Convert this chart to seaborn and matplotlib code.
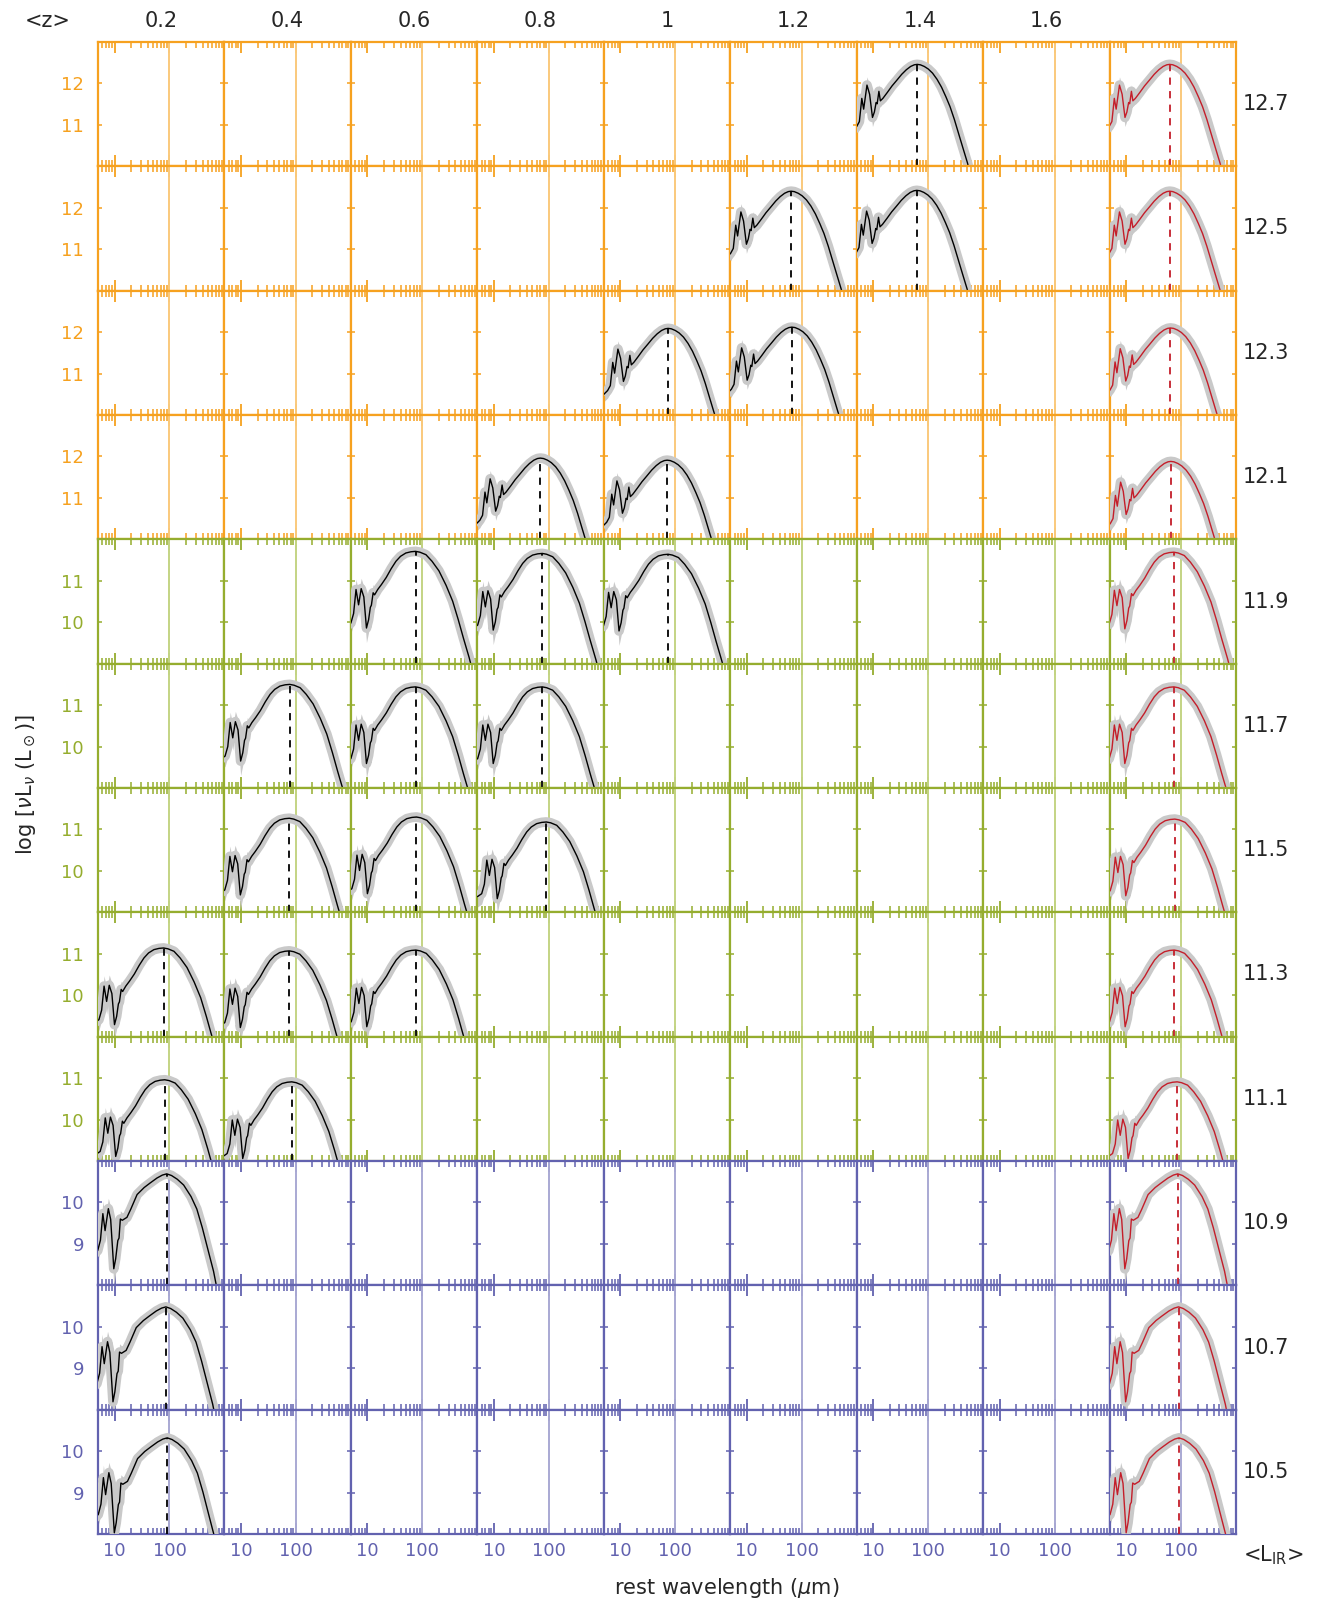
import numpy as np
import matplotlib
matplotlib.use("Agg")
import matplotlib.pyplot as plt
from matplotlib.ticker import LogLocator, NullFormatter, FixedLocator, FixedFormatter
import seaborn as sns

# rows = <L_IR> bins, columns = <z> bins (+ one stacked column on the right)
lir_rows = [12.7, 12.5, 12.3, 12.1, 11.9, 11.7, 11.5, 11.3, 11.1, 10.9, 10.7, 10.5]
z_labels = ["0.2", "0.4", "0.6", "0.8", "1", "1.2", "1.4", "1.6"]

# z columns holding a template in each row
filled_cols = [[6], [5, 6], [4, 5], [3, 4], [2, 3, 4], [1, 2, 3], [1, 2, 3],
               [0, 1, 2], [0, 1], [0], [0], [0]]
# peak wavelength (um) of each template, last value = stacked (red) column
peak_wave = [[63, 62], [64, 62, 62], [74, 66, 64], [70, 71, 65], [75, 76, 74, 74],
             [77, 75, 76, 74], [76, 78, 90, 77], [78, 76, 76, 75], [82, 84, 85],
             [89, 87], [86, 90], [91, 92]]
# peak log(nu L_nu), same layout
peak_lum = [[12.46, 12.46], [12.40, 12.42, 12.40], [12.09, 12.12, 12.10],
            [11.96, 11.91, 11.88], [11.71, 11.66, 11.64, 11.69],
            [11.50, 11.44, 11.44, 11.44], [11.27, 11.30, 11.18, 11.25],
            [11.14, 11.07, 11.09, 11.09], [10.96, 10.91, 10.91],
            [10.69, 10.69], [10.48, 10.48], [10.32, 10.32]]

# template shapes (wavelength, log L relative to peak, band half width)
bright_peak = 63
bright_wave = [4.2, 5.0, 5.6, 6.2, 6.7, 7.7, 8.6, 9.7, 10.5, 11.3, 11.8, 12.7, 13.5, 15.0,
               18, 22, 27, 33, 40, 48, 56, 63, 72, 85, 100, 120, 145, 175, 210, 250,
               300, 360, 430, 520, 620, 750]
bright_rel = [-1.60, -1.50, -1.38, -0.82, -1.08, -0.50, -0.72, -1.28, -1.15, -0.92, -0.95,
              -0.65, -0.88, -0.82, -0.68, -0.52, -0.38, -0.24, -0.13, -0.05, -0.01, 0.0,
              -0.01, -0.05, -0.11, -0.21, -0.36, -0.55, -0.78, -1.02, -1.33, -1.68,
              -2.02, -2.38, -2.80, -3.3]
bright_err = [0.18, 0.18, 0.18, 0.2, 0.22, 0.2, 0.2, 0.22, 0.2, 0.18, 0.18, 0.16, 0.14,
              0.12, 0.1, 0.08, 0.06, 0.05, 0.05, 0.05, 0.05, 0.05, 0.05, 0.05, 0.05, 0.05,
              0.05, 0.05, 0.05, 0.05, 0.05, 0.05, 0.05, 0.05, 0.05, 0.05]

mid_peak = 75
mid_wave = [4.2, 5.0, 5.6, 6.2, 6.9, 7.7, 8.6, 9.6, 10.5, 11.3, 11.8, 12.7, 13.5, 15.4,
            18, 22, 27, 33, 40, 50, 62, 75, 90, 116, 150, 200, 270, 355, 450, 560, 712, 900]
mid_rel = [-1.80, -1.73, -1.50, -0.92, -1.29, -0.90, -1.10, -1.85, -1.65, -1.35, -1.30,
           -1.00, -1.05, -0.92, -0.80, -0.63, -0.42, -0.24, -0.12, -0.04, -0.01, 0.0,
           -0.02, -0.08, -0.24, -0.47, -0.82, -1.20, -1.65, -2.10, -2.57, -3.1]
mid_err = [0.25, 0.25, 0.25, 0.25, 0.3, 0.25, 0.25, 0.35, 0.3, 0.25, 0.22, 0.2, 0.18,
           0.15, 0.12, 0.1, 0.07, 0.05, 0.05, 0.05, 0.05, 0.05, 0.05, 0.05, 0.05, 0.05,
           0.05, 0.05, 0.05, 0.05, 0.05, 0.05]

faint_peak = 90
faint_wave = [4.2, 5.0, 5.6, 6.2, 6.8, 7.8, 8.6, 9.8, 10.6, 11.6, 12.2, 12.9, 14.0, 17,
              20, 26, 35, 45, 60, 75, 90, 110, 140, 183, 250, 318, 400, 500, 640, 800]
faint_rel = [-1.95, -1.85, -1.60, -0.96, -1.37, -0.84, -1.10, -2.29, -2.05, -1.61, -1.55,
             -1.09, -1.12, -1.05, -0.85, -0.50, -0.33, -0.22, -0.10, -0.03, 0.0, -0.04,
             -0.13, -0.27, -0.55, -0.85, -1.30, -1.80, -2.35, -3.0]
faint_err = [0.25, 0.25, 0.25, 0.3, 0.3, 0.25, 0.3, 0.4, 0.35, 0.3, 0.25, 0.2, 0.18, 0.15,
             0.12, 0.08, 0.06, 0.05, 0.05, 0.05, 0.05, 0.05, 0.05, 0.05, 0.05, 0.05, 0.05,
             0.05, 0.05, 0.05]

# colour groups: (rows, axis colour, light colour, y range, y ticks, template)
groups = [
    (range(0, 4), "#F6A11F", "#FAC97C", (10, 13), [11, 12], (bright_wave, bright_rel, bright_err, bright_peak)),
    (range(4, 9), "#95AD2E", "#C4D484", (9, 12), [10, 11], (mid_wave, mid_rel, mid_err, mid_peak)),
    (range(9, 12), "#6262AF", "#A9A9D3", (8, 11), [9, 10], (faint_wave, faint_rel, faint_err, faint_peak)),
]

sns.set_style("white")
plt.rcParams["font.family"] = ["DejaVu Sans"]
plt.rcParams["mathtext.fontset"] = "dejavusans"

nrow, ncol = len(lir_rows), len(z_labels) + 1
fig, axes = plt.subplots(nrow, ncol, figsize=(13.29, 16.04), dpi=100,
                         gridspec_kw=dict(hspace=0, wspace=0))
fig.subplots_adjust(left=98 / 1329, right=1236 / 1329, top=1 - 42 / 1604, bottom=1 - 1534 / 1604)

grey = "#C9C9C9"


def draw_sed(ax, tmpl, pw, pl, line_color, ymin):
    wave, rel, err, tpeak = tmpl
    wav = np.array(wave) * pw / tpeak
    lum = np.array(rel) + pl
    err = np.array(err)
    ax.fill_between(wav, lum - err, lum + err, color=grey, lw=0, zorder=2)
    sns.lineplot(x=wav, y=lum, ax=ax, color=grey, lw=7, sort=False, estimator=None,
                 legend=False, zorder=3, solid_capstyle="butt")
    sns.lineplot(x=wav, y=lum, ax=ax, color=line_color, lw=1.0, sort=False, estimator=None,
                 legend=False, zorder=4)
    ax.vlines(pw, ymin, pl, colors=line_color, linestyles=(0, (4, 3.5)), lw=1.3, zorder=5)


for rows, col, light, (y0, y1), yt, tmpl in groups:
    for r in rows:
        for c in range(ncol):
            ax = axes[r, c]
            ax.set_xscale("log")
            ax.set_xlim(5, 1000)
            ax.set_ylim(y0, y1)
            ax.axvline(100, color=light, lw=1.4, zorder=1)
            for s in ax.spines.values():
                s.set_color(col)
                s.set_linewidth(1.6)
                s.set_visible(True)
            ax.xaxis.set_major_locator(FixedLocator([10, 100]))
            ax.xaxis.set_minor_locator(LogLocator(base=10, subs=np.arange(2, 10), numticks=10))
            ax.xaxis.set_minor_formatter(NullFormatter())
            ax.yaxis.set_major_locator(FixedLocator(yt))
            ax.tick_params(axis="x", which="major", direction="in", length=8, width=1.3,
                           top=True, bottom=True, color=col, labelcolor="#6262AF",
                           labelsize=13, pad=6, labelbottom=(r == nrow - 1))
            ax.tick_params(axis="x", which="minor", direction="in", length=4, width=1.1,
                           top=True, bottom=True, color=col)
            ax.tick_params(axis="y", which="major", direction="in", length=3, width=1.1,
                           left=True, right=True, color=col, labelcolor=col, labelsize=13,
                           pad=10, labelleft=(c == 0))
            if r == nrow - 1:
                ax.set_xticklabels(["10", "100"])
            ax.set_xlabel("")
            ax.set_ylabel("")

        filled = filled_cols[r]
        for k, c in enumerate(filled):
            draw_sed(axes[r, c], tmpl, peak_wave[r][k], peak_lum[r][k], "black", y0)
        draw_sed(axes[r, ncol - 1], tmpl, peak_wave[r][-1], peak_lum[r][-1], "#C41E2A", y0)

# column headers and row labels
fig.text(48 / 1329, 1 - 21 / 1604, "<z>", ha="center", va="center", fontsize=15)
for c, lab in enumerate(z_labels):
    pos = axes[0, c].get_position()
    fig.text((pos.x0 + pos.x1) / 2, 1 - 21 / 1604, lab, ha="center", va="center", fontsize=15)
for r, lir in enumerate(lir_rows):
    pos = axes[r, ncol - 1].get_position()
    fig.text(1243 / 1329, (pos.y0 + pos.y1) / 2, f"{lir:.1f}", ha="left", va="center", fontsize=15)
fig.text(1243 / 1329, 1 - 1555 / 1604, r"<L$_{\rm IR}$>", ha="left", va="center", fontsize=15)

fig.text(727 / 1329, 1 - 1588 / 1604, r"rest wavelength ($\mu$m)", ha="center", va="center", fontsize=15)
fig.text(26 / 1329, 1 - 785 / 1604, r"log [$\nu$L$_\nu$ (L$_\odot$)]", ha="center", va="center",
         rotation=90, fontsize=15)

fig.savefig("out.png", dpi=100)
